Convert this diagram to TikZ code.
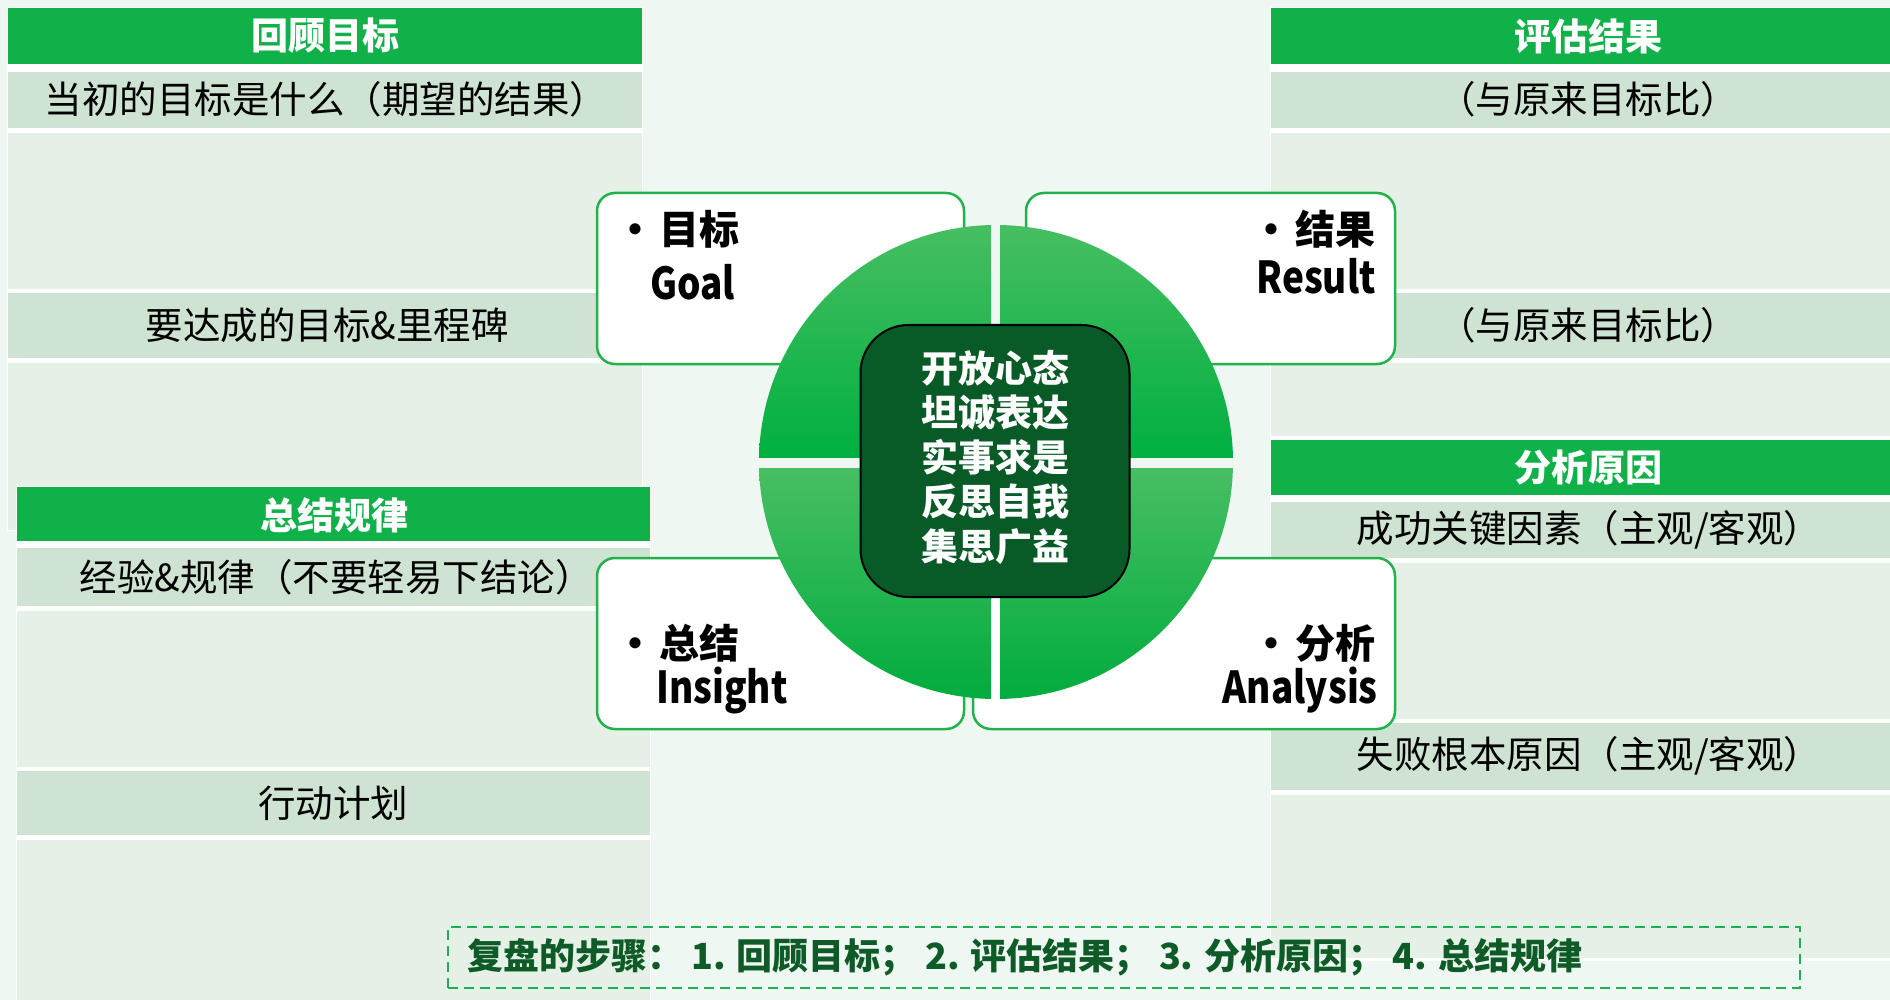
\documentclass[tikz,border=0pt]{standalone}
\usepackage{fontspec}
\setmainfont{Noto Sans CJK SC}
\definecolor{bg}{RGB}{238,247,241}
\definecolor{hdrgreen}{RGB}{17,177,74}
\definecolor{band}{RGB}{206,227,209}
\definecolor{bodyc}{RGB}{229,241,231}
\definecolor{cardline}{RGB}{34,178,76}
\definecolor{qlight}{RGB}{72,190,99}
\definecolor{qdark}{RGB}{0,176,64}
\definecolor{qdark2}{RGB}{0,172,62}
\definecolor{darkc}{RGB}{8,91,38}
\definecolor{foottext}{RGB}{14,91,39}
\definecolor{dashgreen}{RGB}{29,177,84}
\newcommand{\cardlatin}[1]{\scalebox{0.84}[1]{#1}}
\begin{document}
\begin{tikzpicture}[x=1pt,y=-1pt,
  hdr/.style={font=\fontsize{37}{44}\selectfont\bfseries, text=white, inner sep=0pt},
  rowtxt/.style={font=\fontsize{37.5}{44}\selectfont, text=black, inner sep=0pt},
  card/.style={draw=cardline, line width=2.5pt, fill=white, rounded corners=18pt},
  cardzh/.style={font=\fontsize{40}{46}\selectfont\bfseries, text=black, inner sep=0pt},
  carden/.style={font=\fontsize{44}{50}\selectfont\bfseries, text=black, inner sep=0pt},
]
\useasboundingbox (0,0) rectangle (1890,1000);
\fill[bg] (0,0) rectangle (1890,1000);

% left top panel
\fill[white] (7,7) rectangle (643,531);
\fill[hdrgreen] (8,8) rectangle (642,64);
\fill[band] (8,72) rectangle (642,128);
\fill[bodyc] (8,133) rectangle (642,289);
\fill[band] (8,293) rectangle (642,358);
\fill[bodyc] (8,363) rectangle (642,530);
% left bottom panel
\fill[white] (16,486) rectangle (651,1000);
\fill[hdrgreen] (17,487) rectangle (650,541);
\fill[band] (17,548) rectangle (650,606);
\fill[bodyc] (17,611) rectangle (650,767);
\fill[band] (17,771) rectangle (650,835);
\fill[bodyc] (17,840) rectangle (650,1000);
% right top panel
\fill[white] (1270,7) rectangle (1890,440);
\fill[hdrgreen] (1271,8) rectangle (1890,64);
\fill[band] (1271,72) rectangle (1890,128);
\fill[bodyc] (1271,133) rectangle (1890,289);
\fill[band] (1271,293) rectangle (1890,358);
\fill[bodyc] (1271,363) rectangle (1890,436);
% right bottom panel
\fill[white] (1270,439) rectangle (1890,961);
\fill[hdrgreen] (1271,440) rectangle (1890,495);
\fill[band] (1271,502) rectangle (1890,558);
\fill[bodyc] (1271,563) rectangle (1890,719);
\fill[band] (1271,723) rectangle (1890,790);
\fill[bodyc] (1271,795) rectangle (1890,958);

% panel texts
\node[hdr] (h1) at (325,36) {回顾目标};
\node[rowtxt] (r11) at (326,99) {当初的目标是什么（期望的结果）};
\node[rowtxt] (r12) at (327,325) {要达成的目标\&里程碑};
\node[hdr] (h4) at (334,515) {总结规律};
\node[rowtxt] (r41) at (336,577) {经验\&规律（不要轻易下结论）};
\node[rowtxt] (r42) at (333,803) {行动计划};
\node[hdr] (h2) at (1588,36) {评估结果};
\node[rowtxt] (r21) at (1588,99) {（与原来目标比）};
\node[rowtxt] (r22) at (1588,325) {（与原来目标比）};
\node[hdr] (h3) at (1588,467) {分析原因};
\node[rowtxt] (r31) at (1589,530) {成功关键因素（主观/客观）};
\node[rowtxt] (r32) at (1589,756) {失败根本原因（主观/客观）};

% cards
\draw[card] (597,193) rectangle (964,364);
\draw[card] (1026,193) rectangle (1395,364);
\draw[card] (597,558) rectangle (964,729);
\draw[card] (973,558) rectangle (1395,729);

% circle quadrants
\begin{scope}
\clip (996,462) circle (237);
\shade[top color=qlight, bottom color=qdark] (755,222) rectangle (991,457);
\shade[top color=qlight, bottom color=qdark] (1000,222) rectangle (1236,457);
\shade[top color=qlight, bottom color=qdark2] (755,468) rectangle (991,702);
\shade[top color=qlight, bottom color=qdark2] (1000,468) rectangle (1236,702);
\end{scope}

% center
\node[draw=black, line width=2pt, fill=darkc, rounded corners=48pt,
  minimum width=269pt, minimum height=272pt, inner sep=0pt] (core) at (995,461) {};
\node[align=center, text=white, inner sep=0pt, font=\fontsize{37}{44.5}\selectfont\bfseries]
  (coretxt) at (995,457) {开放心态\\坦诚表达\\实事求是\\反思自我\\集思广益};

% card texts
\node[cardzh, anchor=west] (g1) at (615,229) {•\hspace{4pt}目标};
\node[carden, anchor=west] (g2) at (650,282) {\cardlatin{Goal}};
\node[cardzh, anchor=east] (s1) at (1376,229) {•\hspace{4pt}结果};
\node[carden, anchor=east] (s2) at (1376,276) {\cardlatin{Result}};
\node[cardzh, anchor=west] (i1) at (615,643) {•\hspace{4pt}总结};
\node[carden, anchor=west] (i2) at (656,690) {\cardlatin{Insight}};
\node[cardzh, anchor=east] (a1) at (1376,643) {•\hspace{4pt}分析};
\node[carden, anchor=east] (a2) at (1378,690) {\cardlatin{Analysis}};

% footer
\node[draw=dashgreen, dash pattern=on 10pt off 6pt, line width=2.5pt,
  minimum width=1352pt, minimum height=61pt, inner sep=0pt] (foot) at (1124,957.5) {};
\node[anchor=west, inner sep=0pt, text=foottext, font=\fontsize{36}{42}\selectfont\bfseries]
  (foottxt) at (467,957) {复盘的步骤： 1. 回顾目标； 2. 评估结果； 3. 分析原因； 4. 总结规律};
\end{tikzpicture}
\end{document}
